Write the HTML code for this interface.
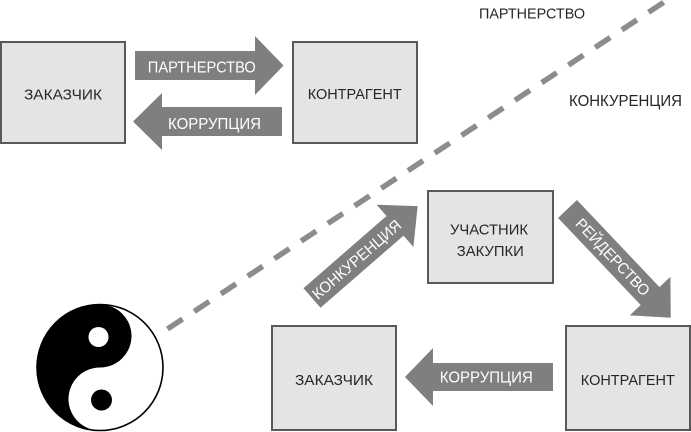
<!DOCTYPE html>
<html>
<head>
<meta charset="utf-8">
<style>
  html, body { margin: 0; padding: 0; background: #ffffff; }
  body { width: 691px; height: 432px; overflow: hidden; }
  svg { display: block; }
  text { font-family: "Liberation Sans", "DejaVu Sans", sans-serif; }
</style>
</head>
<body>
<svg width="691" height="432" viewBox="0 0 691 432" xmlns="http://www.w3.org/2000/svg">
  <!-- dashed divider line -->
  <line x1="167.5" y1="329" x2="690" y2="-15" stroke="#8c8c8c" stroke-width="5.5" stroke-dasharray="18 14"/>

  <!-- top boxes -->
  <rect x="1" y="42" width="124" height="101" fill="#e4e4e4" stroke="#595959" stroke-width="2"/>
  <rect x="293" y="42" width="124" height="101" fill="#e4e4e4" stroke="#595959" stroke-width="2"/>

  <!-- top arrows -->
  <polygon points="135,51 255,51 255,36 283.5,65.5 255,95 255,80 135,80" fill="#7f7f7f"/>
  <polygon points="282,107 162,107 162,93 133,121.5 162,150 162,136 282,136" fill="#7f7f7f"/>

  <text x="63" y="99.3" font-size="15" fill="#262626" text-anchor="middle" textLength="78" lengthAdjust="spacingAndGlyphs">ЗАКАЗЧИК</text>
  <text x="354.7" y="99" font-size="15" fill="#262626" text-anchor="middle" textLength="94" lengthAdjust="spacingAndGlyphs">КОНТРАГЕНТ</text>
  <text x="201.8" y="72.7" font-size="16" fill="#ffffff" text-anchor="middle" textLength="108" lengthAdjust="spacingAndGlyphs">ПАРТНЕРСТВО</text>
  <text x="214.5" y="129" font-size="16" fill="#ffffff" text-anchor="middle" textLength="93" lengthAdjust="spacingAndGlyphs">КОРРУПЦИЯ</text>

  <!-- free labels -->
  <text x="532" y="18.3" font-size="15" fill="#262626" text-anchor="middle" textLength="106" lengthAdjust="spacingAndGlyphs">ПАРТНЕРСТВО</text>
  <text x="625.5" y="106" font-size="16" fill="#262626" text-anchor="middle" textLength="113" lengthAdjust="spacingAndGlyphs">КОНКУРЕНЦИЯ</text>

  <!-- middle box -->
  <rect x="428" y="191" width="125" height="92" fill="#e4e4e4" stroke="#595959" stroke-width="2"/>
  <text x="489" y="234.3" font-size="15" fill="#262626" text-anchor="middle" textLength="78" lengthAdjust="spacingAndGlyphs">УЧАСТНИК</text>
  <text x="490.3" y="256" font-size="15" fill="#262626" text-anchor="middle" textLength="67" lengthAdjust="spacingAndGlyphs">ЗАКУПКИ</text>

  <!-- diagonal arrow: КОНКУРЕНЦИЯ -->
  <g transform="translate(312,298) rotate(-41)">
    <polygon points="0,-13 110,-13 110,-28 140,0 110,28 110,13 0,13" fill="#7f7f7f"/>
    <text x="59" y="5.6" font-size="15.5" fill="#ffffff" text-anchor="middle" textLength="112" lengthAdjust="spacingAndGlyphs">КОНКУРЕНЦИЯ</text>
  </g>

  <!-- diagonal arrow: РЕЙДЕРСТВО -->
  <g transform="translate(567.5,209) rotate(46.5)">
    <polygon points="0,-13 120,-13 120,-28 150,0 120,28 120,13 0,13" fill="#7f7f7f"/>
    <text x="66" y="5.6" font-size="15.5" fill="#ffffff" text-anchor="middle" textLength="100" lengthAdjust="spacingAndGlyphs">РЕЙДЕРСТВО</text>
  </g>

  <!-- bottom boxes -->
  <rect x="272" y="326" width="124" height="104" fill="#e4e4e4" stroke="#595959" stroke-width="2"/>
  <rect x="566" y="326" width="124" height="104" fill="#e4e4e4" stroke="#595959" stroke-width="2"/>
  <text x="334" y="385" font-size="15" fill="#262626" text-anchor="middle" textLength="78" lengthAdjust="spacingAndGlyphs">ЗАКАЗЧИК</text>
  <text x="627.8" y="385" font-size="15" fill="#262626" text-anchor="middle" textLength="94" lengthAdjust="spacingAndGlyphs">КОНТРАГЕНТ</text>

  <!-- bottom arrow -->
  <polygon points="553,363 433,363 433,348 405,377 433,406 433,391 553,391" fill="#7f7f7f"/>
  <text x="486.3" y="382.7" font-size="16" fill="#ffffff" text-anchor="middle" textLength="93" lengthAdjust="spacingAndGlyphs">КОРРУПЦИЯ</text>

  <!-- yin-yang -->
  <g>
    <circle cx="100" cy="367.5" r="63" fill="#ffffff" stroke="#000000" stroke-width="1.6"/>
    <path d="M100,304.5 A63,63 0 0 0 100,430.5 A31.5,31.5 0 0 1 100,367.5 A31.5,31.5 0 0 0 100,304.5 Z" fill="#000000"/>
    <circle cx="98.5" cy="337" r="10" fill="#ffffff"/>
    <circle cx="101.5" cy="400" r="10.5" fill="#000000"/>
  </g>
</svg>
</body>
</html>
